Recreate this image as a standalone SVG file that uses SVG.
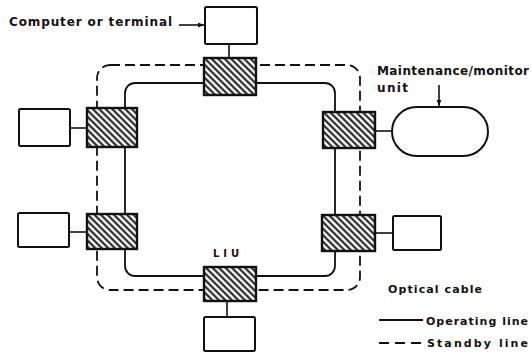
<svg xmlns="http://www.w3.org/2000/svg" width="531" height="354" viewBox="0 0 531 354">
  <defs>
    <pattern id="hatch" patternUnits="userSpaceOnUse" width="4.6" height="4.6" patternTransform="rotate(45)">
      <rect width="4.6" height="4.6" fill="#fff"/>
      <line x1="0" y1="2.3" x2="4.6" y2="2.3" stroke="#111" stroke-width="2"/>
    </pattern>
    <marker id="arr" viewBox="0 0 10 10" refX="10" refY="5" markerWidth="6" markerHeight="6" markerUnits="userSpaceOnUse" orient="auto">
      <path d="M0,1 L10,5 L0,9 Z" fill="#111"/>
    </marker>
  </defs>
  <style>
    .box { fill: #fff; stroke: #111; stroke-width: 2; }
    .liu { fill: url(#hatch); stroke: #111; stroke-width: 2.4; }
    .op { fill: none; stroke: #111; stroke-width: 1.8; }
    .sb { fill: none; stroke: #111; stroke-width: 1.8; stroke-dasharray: 10 5; }
    .ln { fill: none; stroke: #111; stroke-width: 1.6; }
    text { font-family: "DejaVu Sans", "Liberation Sans", sans-serif; font-weight: bold; fill: #111; }
  </style>
  <rect width="531" height="354" fill="#fff"/>

  <g id="connectors">
    <rect class="op" x="125" y="83" width="210" height="193" rx="10"/>
    <rect class="sb" x="97" y="65" width="263" height="225" rx="13"/>
    <line class="ln" x1="229" y1="44" x2="229" y2="58"/>
    <line class="ln" x1="70" y1="128" x2="87" y2="128"/>
    <line class="ln" x1="69" y1="232" x2="87" y2="232"/>
    <line class="ln" x1="375" y1="131" x2="392" y2="131"/>
    <line class="ln" x1="375" y1="233" x2="393" y2="233"/>
    <line class="ln" x1="227" y1="301" x2="227" y2="317"/>
    <line class="ln" x1="179" y1="25" x2="204" y2="25" marker-end="url(#arr)"/>
    <line class="ln" x1="439" y1="85" x2="439" y2="106" marker-end="url(#arr)"/>
  </g>

  <g id="terminal-top"><rect class="box" x="205" y="7" width="52" height="37" rx="1.5"/></g>
  <g id="terminal-left-top"><rect class="box" x="19" y="109" width="51" height="37" rx="1.5"/></g>
  <g id="terminal-left-bottom"><rect class="box" x="18" y="213" width="51" height="34" rx="1.5"/></g>
  <g id="terminal-right-bottom"><rect class="box" x="393" y="216" width="48" height="34" rx="1.5"/></g>
  <g id="terminal-bottom"><rect class="box" x="204" y="317" width="51" height="34" rx="1.5"/></g>
  <g id="maintenance-unit"><rect class="box" x="392" y="107" width="96" height="49" rx="24.5"/></g>

  <g id="liu-top"><rect class="liu" x="204" y="58" width="52" height="37"/></g>
  <g id="liu-left-top"><rect class="liu" x="87" y="108" width="50" height="39"/></g>
  <g id="liu-left-bottom"><rect class="liu" x="87" y="214" width="50" height="35"/></g>
  <g id="liu-right-top"><rect class="liu" x="323" y="112" width="52" height="36"/></g>
  <g id="liu-right-bottom"><rect class="liu" x="322" y="215" width="53" height="36"/></g>
  <g id="liu-bottom"><rect class="liu" x="204" y="267" width="52" height="34"/></g>

  <g id="labels">
    <text x="9" y="26" font-size="12" textLength="163" lengthAdjust="spacing">Computer or terminal</text>
    <text x="377" y="75" font-size="12" textLength="152" lengthAdjust="spacing">Maintenance/monitor</text>
    <text x="377" y="92" font-size="12" textLength="31" lengthAdjust="spacing">unit</text>
    <text x="213" y="257" font-size="10" textLength="26" lengthAdjust="spacing" font-weight="normal">LIU</text>
    <text x="388" y="293" font-size="11" textLength="94" lengthAdjust="spacing">Optical cable</text>
    <text x="426" y="325" font-size="11" textLength="102" lengthAdjust="spacing">Operating line</text>
    <text x="427" y="347" font-size="11" textLength="101" lengthAdjust="spacing">Standby line</text>
  </g>

  <g id="legend">
    <line class="op" x1="379" y1="320" x2="423" y2="320"/>
    <line class="op" x1="379" y1="343" x2="423" y2="343" stroke-dasharray="10 6"/>
  </g>
</svg>
